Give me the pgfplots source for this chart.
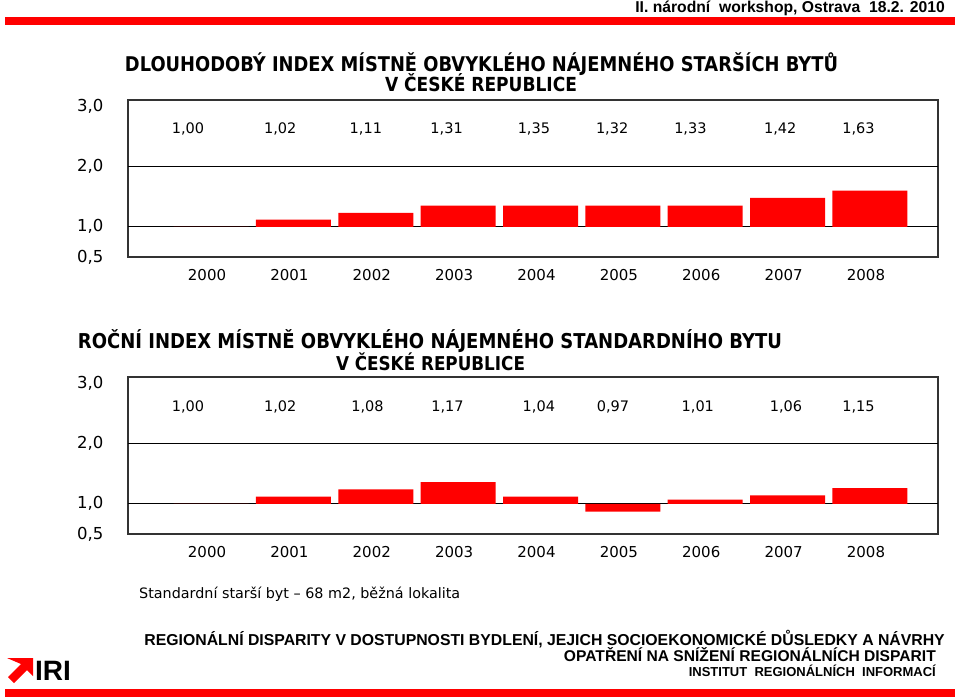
\documentclass[border=0pt]{standalone}
\usepackage{fontspec}
\setmainfont{Liberation Sans}
\newfontfamily\comic{DejaVu Sans}
\usepackage{graphicx}
\usepackage{pgfplots}
\usepackage{pgfplotstable}
\pgfplotsset{compat=1.18}

% bar heights as drawn in the picture (index values)
\pgfplotstableread{
x v
0 1.00
1 1.12
2 1.23
3 1.35
4 1.35
5 1.35
6 1.35
7 1.48
8 1.60
}\upperbars

\pgfplotstableread{
x y l
-0.28 2.62 1,00
0.84 2.62 1,02
1.88 2.62 1,11
2.86 2.62 1,31
3.92 2.62 1,35
4.87 2.62 1,32
5.82 2.62 1,33
6.91 2.62 1,42
7.86 2.62 1,63
}\upperlabels

\pgfplotstableread{
x v
0 1.00
1 1.12
2 1.24
3 1.36
4 1.12
5 0.87
6 1.07
7 1.14
8 1.26
}\lowerbars

\pgfplotstableread{
x y l
-0.28 2.60 1,00
0.84 2.60 1,02
1.90 2.60 1,08
2.87 2.60 1,17
3.98 2.60 1,04
4.88 2.60 0,97
5.91 2.60 1,01
6.98 2.60 1,06
7.86 2.60 1,15
}\lowerlabels

\pgfplotsset{panel/.style={
  scale only axis, width=810pt, height=157pt,
  xmin=-1.008, xmax=8.826, ymin=-0.5, ymax=2.1,
  axis line style={draw=black!80, line width=1.2pt},
  ytick={-0.5,0,1,2}, yticklabels={{0,5},{1,0},{2,0},{3,0}},
  xtick={0,1,2,3,4,5,6,7,8},
  xticklabels={2000,2001,2002,2003,2004,2005,2006,2007,2008},
  major tick length=0pt, tick style={draw=none},
  extra y ticks={0,1}, extra y tick labels={},
  extra y tick style={grid=major, major grid style={black, line width=0.9pt}},
  ticklabel style={font=\comic\fontsize{15}{15}\selectfont},
  yticklabel style={xshift=-21pt, font=\comic\fontsize{16.5}{16.5}\selectfont},
  xticklabel style={yshift=-9pt, xshift=-4pt},
  clip=false,
}}

\begin{document}
\begin{tikzpicture}
\path[use as bounding box] (0pt,0pt) rectangle (960pt,-698pt);

% header
\fill[red] (5pt,-17pt) rectangle (955pt,-25pt);
\node[anchor=base east, inner sep=0pt] at (945pt,-13pt)
  {\fontsize{15.7}{16}\selectfont\bfseries II. národní\ \ workshop, Ostrava\ \ 18.2. 2010};

% upper panel
\node[anchor=base, inner sep=0pt] at (481.5pt,-72pt)
  {\resizebox{713pt}{!}{\scalebox{0.88}[1]{\comic\bfseries DLOUHODOBÝ INDEX MÍSTNĚ OBVYKLÉHO NÁJEMNÉHO STARŠÍCH BYTŮ}}};
\node[anchor=base, inner sep=0pt] at (481pt,-92pt)
  {\resizebox{192pt}{!}{\scalebox{0.88}[1]{\comic\bfseries V ČESKÉ REPUBLICE}}};

\begin{axis}[panel, at={(128pt,-100pt)}, anchor=north west]
\addplot[ybar, bar width=75pt, bar shift=0pt, fill=red, draw=none]
  table[x=x, y expr=\thisrow{v}-1] {\upperbars};
\addplot[draw=none, mark=none, nodes near coords, point meta=explicit symbolic,
  nodes near coords style={anchor=center, font=\comic\fontsize{14.5}{15}\selectfont, text=black}]
  table[x=x, y expr=\thisrow{y}-1, meta=l] {\upperlabels};
\end{axis}

% lower panel
\node[anchor=base, inner sep=0pt] at (430pt,-348pt)
  {\resizebox{704pt}{!}{\scalebox{0.88}[1]{\comic\bfseries ROČNÍ INDEX MÍSTNĚ OBVYKLÉHO NÁJEMNÉHO STANDARDNÍHO BYTU}}};
\node[anchor=base, inner sep=0pt] at (430.5pt,-370pt)
  {\resizebox{189pt}{!}{\scalebox{0.88}[1]{\comic\bfseries V ČESKÉ REPUBLICE}}};

\begin{axis}[panel, at={(128pt,-377pt)}, anchor=north west]
\addplot[ybar, bar width=75pt, bar shift=0pt, fill=red, draw=none]
  table[x=x, y expr=\thisrow{v}-1] {\lowerbars};
\addplot[draw=none, mark=none, nodes near coords, point meta=explicit symbolic,
  nodes near coords style={anchor=center, font=\comic\fontsize{14.5}{15}\selectfont, text=black}]
  table[x=x, y expr=\thisrow{y}-1, meta=l] {\lowerlabels};
\end{axis}

% note
\node[anchor=base west, inner sep=0pt] at (139pt,-598pt)
  {\resizebox{321pt}{!}{\comic Standardní starší byt – 68 m2, běžná lokalita}};

% footer
\node[anchor=base east, inner sep=0pt] at (945pt,-645pt)
  {\fontsize{15.8}{16}\selectfont\bfseries REGIONÁLNÍ DISPARITY V DOSTUPNOSTI BYDLENÍ, JEJICH SOCIOEKONOMICKÉ DŮSLEDKY A NÁVRHY};
\node[anchor=base east, inner sep=0pt] at (936pt,-661pt)
  {\fontsize{15.6}{16}\selectfont\bfseries OPATŘENÍ NA SNÍŽENÍ REGIONÁLNÍCH DISPARIT};
\node[anchor=base east, inner sep=0pt] at (936pt,-676pt)
  {\fontsize{13}{13}\selectfont\bfseries INSTITUT\ \ REGIONÁLNÍCH\ \ INFORMACÍ};

% logo
\fill[red] (7pt,-658pt) -- (33pt,-658pt) -- (33pt,-676pt) -- (27pt,-670pt)
  -- (14pt,-683pt) -- (8pt,-677pt) -- (21pt,-664pt) -- cycle;
\node[anchor=base west, inner sep=0pt] at (35pt,-680pt)
  {\fontsize{28}{28}\selectfont\bfseries IRI};
\fill[red] (5pt,-689pt) rectangle (955pt,-697pt);
\end{tikzpicture}
\end{document}
